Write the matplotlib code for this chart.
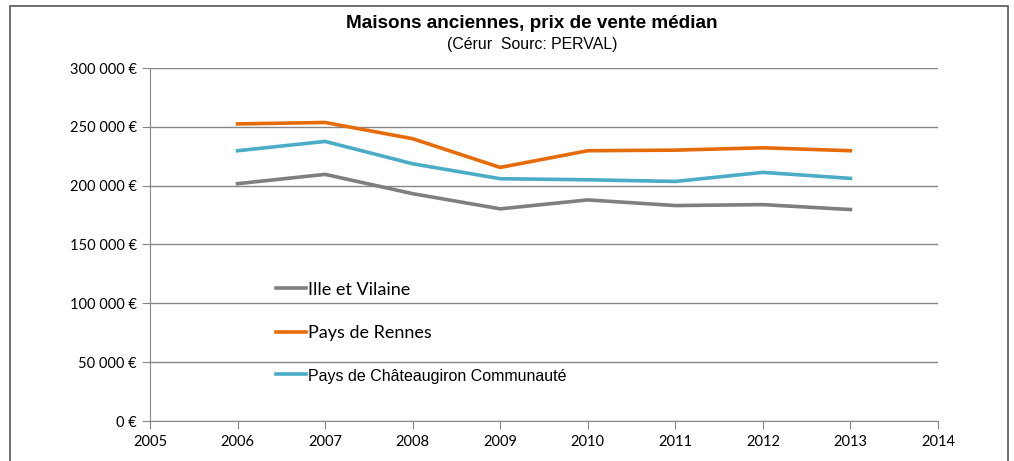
import matplotlib.pyplot as plt
from matplotlib.patches import Rectangle
from matplotlib.ticker import FuncFormatter

# median sale price of old houses
years = [2006, 2007, 2008, 2009, 2010, 2011, 2012, 2013]
ille_et_vilaine = [201700, 209600, 193200, 180300, 187900, 183100, 183900, 179700]
pays_de_rennes = [252500, 253700, 239900, 215500, 229700, 230200, 232200, 229700]
chateaugiron = [229700, 237600, 218600, 205900, 205000, 203600, 211300, 206200]
series_names = ["Ille et Vilaine", "Pays de Rennes", "Pays de Châteaugiron Communauté"]


def euro(v, pos):
    if v == 0:
        return "0 €"
    return f"{int(v):,} €".replace(",", " ")


fig = plt.figure(figsize=(10.14, 4.61), dpi=100)
ax = fig.add_axes([150 / 1014, 40 / 461, 788 / 1014, 353 / 461])

# outer frame of the chart object
fig.patches.append(Rectangle((10 / 1014, -0.05), 998 / 1014, 0.05 + 455 / 461,
                             transform=fig.transFigure, fill=False,
                             edgecolor="#555555", lw=1.2))

ax.plot(years, ille_et_vilaine, color="#7f7f7f", lw=2.6, label=series_names[0])
ax.plot(years, pays_de_rennes, color="#e46c0a", lw=2.6, label=series_names[1])
ax.plot(years, chateaugiron, color="#4bacc6", lw=2.6, label=series_names[2])

ax.set_xlim(2005, 2014)
ax.set_ylim(0, 300000)
ax.set_xticks(range(2005, 2015))
ax.set_yticks(range(0, 300001, 50000))
ax.yaxis.set_major_formatter(FuncFormatter(euro))
ax.grid(axis="y", color="#868686", lw=1)
ax.set_axisbelow(True)
for side in ("top", "right"):
    ax.spines[side].set_visible(False)
for side in ("left", "bottom"):
    ax.spines[side].set_color("#868686")
ax.tick_params(colors="#868686", length=6, labelcolor="black",
               labelsize=10.5, labelfontfamily="Lato")
ax.tick_params(axis="x", pad=4)

fig.text(532 / 1014, 1 - 24 / 461, "Maisons anciennes, prix de vente médian",
         ha="center", va="center", fontsize=13.6, fontweight="bold",
         family="Liberation Sans")
fig.text(532 / 1014, 1 - 45 / 461, "(Cérur  Sourc: PERVAL)",
         ha="center", va="center", fontsize=11.4, family="Liberation Sans")

leg = ax.legend(loc="upper left", bbox_to_anchor=(110 / 788, 155.5 / 353),
                frameon=False, handlelength=1.65, handletextpad=0.1,
                labelspacing=1.5, prop={"family": "Lato", "size": 13})
leg.get_texts()[2].set_family("Liberation Sans")
leg.get_texts()[2].set_size(11.5)

fig.savefig("out.png", dpi=100)
